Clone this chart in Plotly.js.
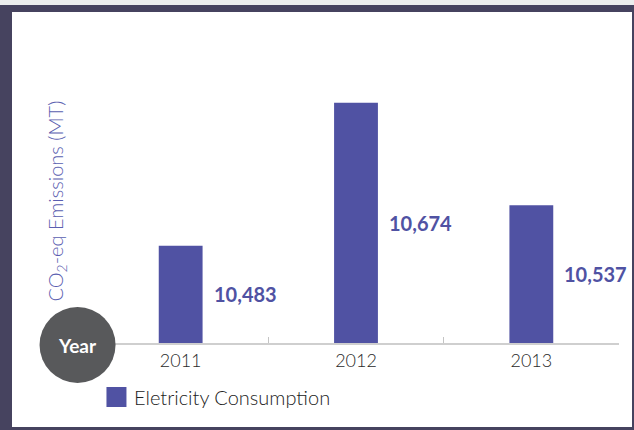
<!DOCTYPE html>
<html>
<head>
<meta charset="utf-8">
<script src="https://cdn.plot.ly/plotly-3.0.1.min.js"></script>
<style>
  html, body { margin: 0; padding: 0; }
  body { width: 634px; height: 430px; background: #46435f; position: relative; overflow: hidden; }
  #topstrip { position: absolute; left: 0; top: 0; width: 634px; height: 5px; background: #eceeee; }
  #chart { position: absolute; left: 12px; top: 12px; width: 620px; height: 415px; background: #ffffff; }
</style>
</head>
<body>
<div id="topstrip"></div>
<div id="chart"></div>
<script>
// ---- data ----
const years = ['2011', '2012', '2013'];
const emissions = [10483, 10674, 10537];
const valueLabels = ['10,483', '10,674', '10,537'];
const seriesName = 'Eletricity Consumption';
const yTitle = 'CO<sub>2</sub>-eq Emissions (MT)';
const axisBase = 10353;
const axisTop = 10771;

const barColor = '#5052a3';
const textPurple = '#5052a3';

const trace = {
  type: 'bar',
  x: years,
  y: emissions.map(v => v - axisBase),
  base: axisBase,
  name: seriesName,
  marker: { color: barColor },
  width: 0.25,
  hoverinfo: 'skip',
  showlegend: false
};

// value labels: category index on the category axis, vertically at bar middle
const annotations = years.map((yr, i) => ({
  x: i,
  y: (axisBase + emissions[i]) / 2,
  xref: 'x', yref: 'y',
  text: valueLabels[i],
  showarrow: false,
  xanchor: 'left',
  yanchor: 'middle',
  xshift: 31,
  font: { family: 'Lato, sans-serif', size: 20, color: textPurple, weight: 700 }
}));

annotations.push({
  xref: 'paper', yref: 'paper',
  x: -0.069, y: 0.454,
  text: yTitle,
  textangle: -90,
  showarrow: false,
  xanchor: 'center', yanchor: 'middle',
  font: { family: 'Lato, sans-serif', size: 20, color: '#5a5eb0', weight: 300 }
});

// "Year" badge text
annotations.push({
  xref: 'paper', yref: 'paper',
  x: -0.0294, y: -0.0064,
  text: 'Year',
  showarrow: false,
  xanchor: 'center', yanchor: 'middle',
  font: { family: 'Lato, sans-serif', size: 19, color: '#ffffff', weight: 700 }
});

// legend text
annotations.push({
  xref: 'paper', yref: 'paper',
  x: 0.075, y: -0.1725,
  text: seriesName,
  showarrow: false,
  xanchor: 'left', yanchor: 'middle',
  font: { family: 'Lato, sans-serif', size: 20, color: '#222222', weight: 300 }
});

const shapes = [
  {
    type: 'circle', layer: 'above',
    xref: 'paper', yref: 'paper',
    xsizemode: 'pixel', ysizemode: 'pixel',
    xanchor: -0.0294, yanchor: -0.0064,
    x0: -38, x1: 38, y0: -38, y1: 38,
    fillcolor: '#58595b', line: { width: 0 }
  },
  {
    type: 'rect', layer: 'above',
    xref: 'paper', yref: 'paper',
    xsizemode: 'pixel', ysizemode: 'pixel',
    xanchor: 0.0446, yanchor: -0.1725,
    x0: -10, x1: 10, y0: -10, y1: 10,
    fillcolor: barColor, line: { width: 0 }
  }
];

const layout = {
  width: 620,
  height: 415,
  margin: { l: 80.5, r: 13, t: 18, b: 84 },
  paper_bgcolor: '#ffffff',
  plot_bgcolor: '#ffffff',
  showlegend: false,
  xaxis: {
    type: 'category',
    range: [-0.5, 2.5],
    showline: true,
    linecolor: '#cfcfcf',
    linewidth: 2,
    ticks: 'inside',
    ticklen: 6,
    tickcolor: '#c4c4c4',
    tickwidth: 1,
    tickson: 'boundaries',
    showgrid: false,
    tickfont: { family: 'Lato, sans-serif', size: 18, color: '#2a2a2a', weight: 300 },
    fixedrange: true
  },
  yaxis: {
    range: [axisBase, axisTop],
    visible: false,
    showgrid: false,
    zeroline: false,
    fixedrange: true
  },
  annotations: annotations,
  shapes: shapes
};

Plotly.newPlot('chart', [trace], layout, { displayModeBar: false, staticPlot: true });
</script>
</body>
</html>
